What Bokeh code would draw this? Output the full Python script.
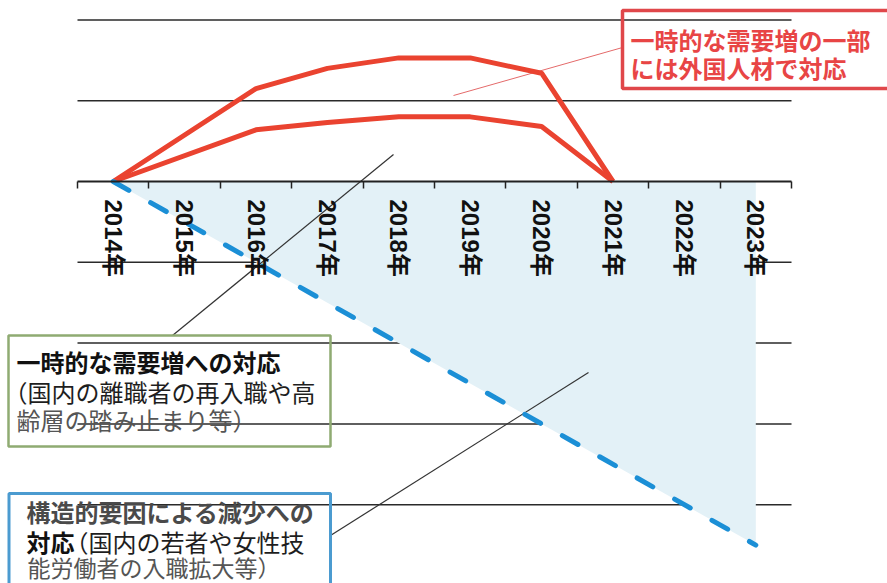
import math
from bokeh.plotting import figure
from bokeh.models import Range1d, FixedTicker
from bokeh.core.properties import value
from bokeh.embed import file_html
from bokeh.resources import INLINE

# ---------------- data ----------------
categories = ["2014年", "2015年", "2016年", "2017年", "2018年",
              "2019年", "2020年", "2021年", "2022年", "2023年"]

red_years = ["2014年", "2016年", "2017年", "2018年", "2019年", "2020年", "2021年"]
red_upper_values = [0, 1.15, 1.40, 1.53, 1.53, 1.34, 0]
red_lower_values = [0, 0.64, 0.73, 0.80, 0.80, 0.68, 0]

blue_years = ["2014年", "2023年"]
blue_values = [0, -4.5]

grid_values = [2, 1, -1, -2, -3, -4]

red_note = ["一時的な需要増の一部", "には外国人材で対応"]
green_note = ["一時的な需要増への対応", "（国内の離職者の再入職や高", "齢層の踏み止まり等）"]
blue_note_1 = "構造的要因による減少への"
blue_note_2a = "対応"
blue_note_2b = "（国内の若者や女性技"
blue_note_3 = "能労働者の入職拡大等）"

# ---------------- layout helpers (pixel -> data) ----------------
W, H = 887, 583
X0, DX = 112.7, 71.4      # px of first category centre, px per category
Y0, DY = 181.0, 80.8      # px of zero line, px per unit


def px(xp):
    return (xp - X0) / DX


def py(yp):
    return (Y0 - yp) / DY


xr = Range1d(px(0), px(W))
yr = Range1d(py(H), py(0))

p = figure(width=W, height=H, x_range=xr, y_range=yr,
           output_backend="svg", toolbar_location=None,
           x_axis_location="below", y_axis_location=None,
           min_border=0, outline_line_color=None, background_fill_color="white")
p.xgrid.visible = False
p.ygrid.visible = False

idx = {c: i for i, c in enumerate(categories)}
n = len(categories)

# grid lines (limited to the plotting area)
p.segment(x0=[-0.5] * len(grid_values), x1=[n - 0.5] * len(grid_values),
          y0=grid_values, y1=grid_values, line_color="#2a2a2a", line_width=1.5)

# light blue triangle between zero line and the decrease line
bx = [idx[y] for y in blue_years]
p.patch(x=[bx[0], bx[1], bx[1]], y=[0, 0, blue_values[1]],
        fill_color="#e3f1f7", line_color=None)

# leader lines
p.line(x=[px(453), px(622)], y=[py(95), py(47)], line_color="#e46a6a", line_width=1)
p.line(x=[px(172), px(393)], y=[py(335), py(154)], line_color="#333333", line_width=1.2)
p.line(x=[px(330), px(588)], y=[py(535), py(372)], line_color="#333333", line_width=1.2)

# red curves
rx = [idx[y] for y in red_years]
p.line(x=rx, y=red_upper_values, line_color="#ea4330", line_width=5, line_join="round")
p.line(x=rx, y=red_lower_values, line_color="#ea4330", line_width=5, line_join="round")

# blue dashed decrease line
p.line(x=bx, y=blue_values, line_color="#1b8fd6", line_width=5,
       line_dash="18 25", line_cap="round")

# annotation boxes
p.quad(left=[px(622)], right=[px(900)], top=[py(10)], bottom=[py(88)],
       fill_color=None, line_color="#e0474a", line_width=3.5)
p.quad(left=[px(8)], right=[px(330)], top=[py(335)], bottom=[py(446)],
       fill_color=None, line_color="#8fab72", line_width=2.5)
p.quad(left=[px(8.5)], right=[px(330)], top=[py(493)], bottom=[py(600)],
       fill_color=None, line_color="#4b9bd0", line_width=3)

font = value("Noto Sans CJK JP")
common = dict(text_font=font, text_font_size="24px", text_baseline="middle", text_align="left")

p.text(x=[px(630), px(630)], y=[py(39), py(67)], text=red_note,
       text_color="#e84545", text_font_style="bold", **common)

p.text(x=[px(16)], y=[py(361)], text=[green_note[0]], text_color="#111111",
       text_font_style="bold", **common)
p.text(x=[px(3)], y=[py(391)], text=[green_note[1]], text_color="#1e1e1e", **common)
p.text(x=[px(16)], y=[py(419)], text=[green_note[2]], text_color="#555555", **common)

p.text(x=[px(26)], y=[py(511)], text=[blue_note_1], text_color="#4a4a4a",
       text_font_style="bold", **common)
p.text(x=[px(26)], y=[py(541)], text=[blue_note_2a], text_color="#111111",
       text_font_style="bold", **common)
p.text(x=[px(64)], y=[py(541)], text=[blue_note_2b], text_color="#1e1e1e", **common)
p.text(x=[px(27)], y=[py(566)], text=[blue_note_3], text_color="#555555",
       text_font=font, text_font_size="23px", text_baseline="middle", text_align="left")

# x axis on the zero line
ax = p.xaxis[0]
ax.fixed_location = 0
ax.bounds = (-0.5, n - 0.5)
ax.ticker = FixedTicker(ticks=list(range(n)), minor_ticks=[i - 0.5 for i in range(n + 1)])
ax.major_label_overrides = {i: c for i, c in enumerate(categories)}
ax.major_label_orientation = -math.pi / 2
ax.major_label_standoff = 11
ax.major_label_text_font = "Liberation Sans, Noto Sans CJK JP"
ax.major_label_text_font_size = "24px"
ax.major_label_text_font_style = "bold"
ax.major_label_text_color = "#111111"
ax.major_tick_out = 0
ax.major_tick_in = 0
ax.minor_tick_out = 7
ax.minor_tick_in = 0
ax.minor_tick_line_color = "#222222"
ax.minor_tick_line_width = 1.5
ax.axis_line_color = "#222222"
ax.axis_line_width = 2

open("out.html", "w").write(file_html(p, INLINE))
